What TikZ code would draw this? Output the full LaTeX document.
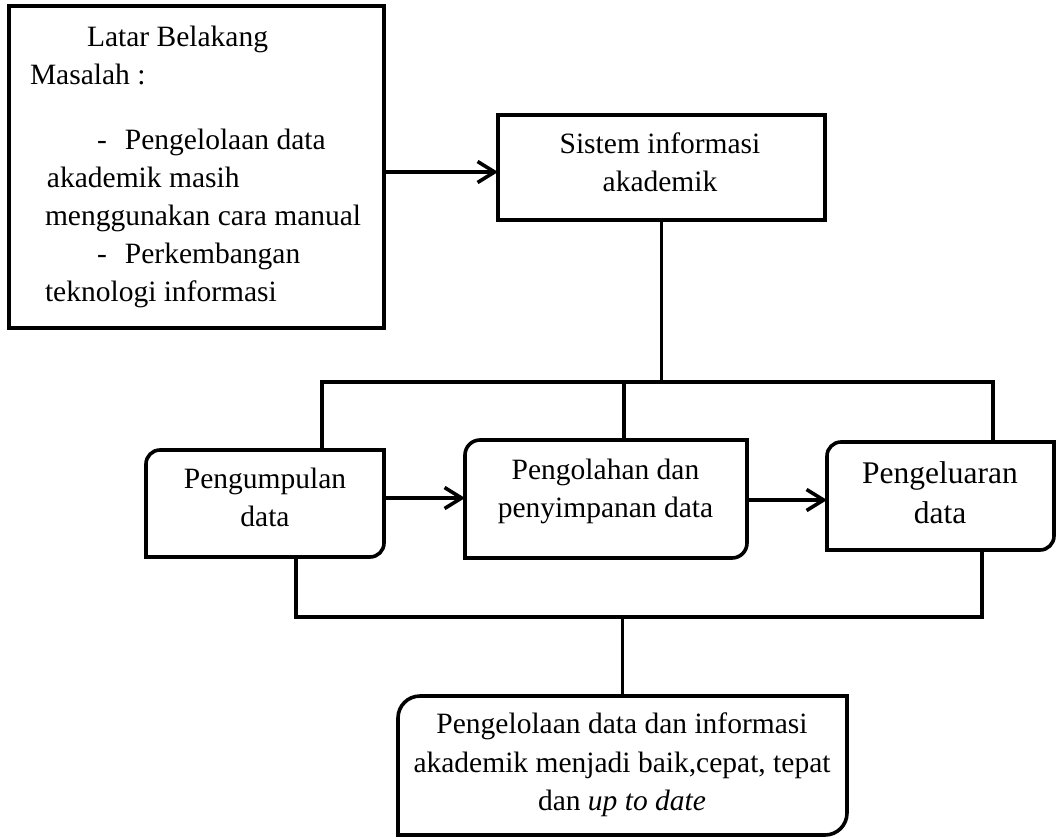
\documentclass[tikz,border=0pt]{standalone}
\usepackage{fontspec}
\setmainfont{Liberation Serif}
\usetikzlibrary{arrows.meta}
\newcommand\mainfs{\fontsize{29.5}{38}\selectfont}
\newcommand\bigfs{\fontsize{31.5}{40}\selectfont}
\newcommand\dfs{\fontsize{29.5}{38.5}\selectfont}
\newcommand\tlbrbox[2]{\draw (#1.south west) -- (#1.west) [rounded corners=#2] -- (#1.north west) -- (#1.north) [sharp corners] -- (#1.north east) -- (#1.east) [rounded corners=#2] -- (#1.south east) -- (#1.south) [sharp corners] -- cycle;}
\begin{document}
\begin{tikzpicture}[x=1pt,y=-1pt,line width=3.6pt,
  boxnode/.style={rectangle,inner sep=0pt,outer sep=0pt},
  txt/.style={inner sep=0pt,outer sep=0pt,anchor=north,align=center,font=\mainfs},
  arr/.style={-{Straight Barb[length=17pt,width=21pt]}}]
\useasboundingbox (0,0) rectangle (1057,838);

% boxes
\node[boxnode,draw,minimum width=375pt,minimum height=322pt] (b1) at (196.5,167) {};
\node[boxnode,draw,minimum width=327pt,minimum height=105pt] (b2) at (661.5,167.5) {};
\node[boxnode,minimum width=238pt,minimum height=107pt] (bA) at (265,503.5) {};
\node[boxnode,minimum width=282pt,minimum height=118pt] (bB) at (606,499) {};
\node[boxnode,minimum width=227pt,minimum height=108pt] (bC) at (940.5,496) {};
\node[boxnode,minimum width=449pt,minimum height=139pt] (bD) at (622.5,765.5) {};
\tlbrbox{bA}{14pt}
\tlbrbox{bB}{15pt}
\tlbrbox{bC}{14pt}
\tlbrbox{bD}{22pt}

% texts
\node[inner sep=0pt,outer sep=0pt,anchor=north west,align=left,font=\mainfs] (t1) at (30,26.2)
{\hspace*{57pt}Latar Belakang\\
Masalah :\\[27pt]
\hspace*{67pt}\makebox[28pt][l]{-}Pengelolaan data\\
\hspace*{17pt}akademik masih\\
\hspace*{15pt}menggunakan cara manual\\
\hspace*{67pt}\makebox[28pt][l]{-}Perkembangan\\
\hspace*{15pt}teknologi informasi};
\node[txt] (t2) at (660,133.2) {Sistem informasi\\akademik};
\node[txt] (tA) at (265,468.2) {Pengumpulan\\data};
\node[txt] (tB) at (605.5,459.2) {Pengolahan dan\\penyimpanan data};
\node[txt,font=\bigfs] (tC) at (940,461.5) {Pengeluaran\\data};
\node[txt,font=\dfs] (tD) at (622,713.2) {Pengelolaan data dan informasi\\akademik menjadi baik,cepat, tepat\\dan \textit{up to date}};

% connectors
\coordinate (h1l) at (322,382);
\coordinate (h1m) at (624,382);
\coordinate (h1r) at (993,382);
\coordinate (h2l) at (296,617);
\coordinate (h2r) at (982,617);
\draw (b2.south) -- (b2.south |- h1l);
\draw (h1l |- bA.north) -- (h1l) -- (h1r) -- (h1r |- bC.north);
\draw (h1m) -- (h1m |- bB.north);
\draw (h2l |- bA.south) -- (h2l) -- (h2r) -- (h2r |- bC.south);
\draw (bD.north) -- (bD.north |- h2l);

\draw[arr] ([yshift=-5pt]b1.east) -- ([yshift=-5pt]b1.east -| b2.west);
\draw[arr] ([yshift=5.5pt]bA.east) -- ([yshift=5.5pt]bA.east -| bB.west);
\draw[arr] ([yshift=-1pt]bB.east) -- ([yshift=-1pt]bB.east -| bC.west);
\end{tikzpicture}
\end{document}
